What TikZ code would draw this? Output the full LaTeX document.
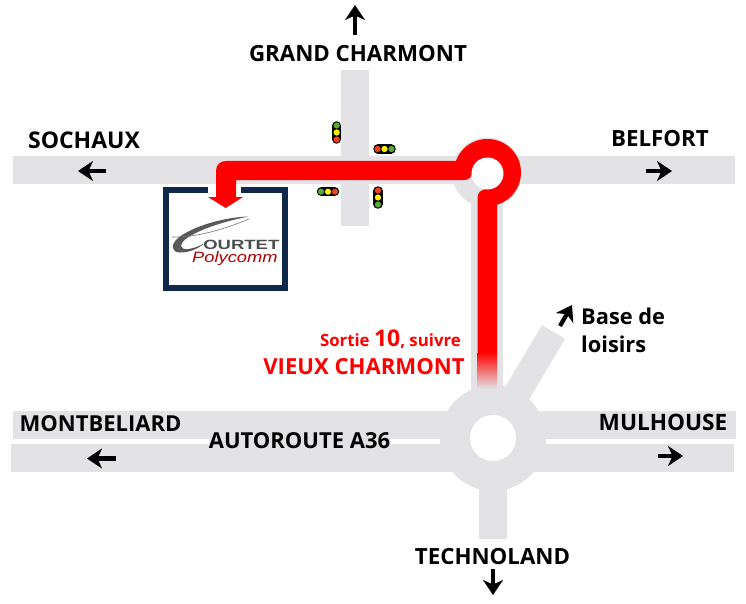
\documentclass[tikz,border=0pt]{standalone}
\usepackage{fontspec}
\setmainfont{Open Sans}
\newfontfamily\logofont{Liberation Sans}
\usetikzlibrary{arrows.meta}
\definecolor{road}{HTML}{E3E3E5}
\definecolor{route}{HTML}{FF0000}
\definecolor{framec}{HTML}{10294A}
\definecolor{tlg}{HTML}{5AA83A}
\definecolor{tly}{HTML}{FFF200}
\definecolor{tlr}{HTML}{F0401C}
\newcommand{\fs}[1]{\bfseries\fontsize{#1}{#1}\selectfont}
\tikzset{
  lbl/.style={inner sep=0pt,font=\fs{22.3},text=black},
  redlbl/.style={inner sep=0pt,font=\fs{22.1},text=route},
  dirarrow/.style={draw=black,line width=4.2pt,-{Stealth[length=15pt,width=20pt,inset=4.5pt]}},
  roadfill/.style={fill=road,draw=none},
  pill/.style={draw=black,line width=9.5pt,line cap=round},
}
\newcommand{\tlv}[5]{% x y top mid bottom
  \draw[pill] (#1,#2-6.5) -- (#1,#2+6.5);
  \fill[#3] (#1,#2-7) circle[radius=3.1];
  \fill[#4] (#1,#2) circle[radius=3.1];
  \fill[#5] (#1,#2+7) circle[radius=3.1];}
\newcommand{\tlh}[5]{% x y left mid right
  \draw[pill] (#1-6.5,#2) -- (#1+6.5,#2);
  \fill[#3] (#1-7,#2) circle[radius=3.1];
  \fill[#4] (#1,#2) circle[radius=3.1];
  \fill[#5] (#1+7,#2) circle[radius=3.1];}
\begin{document}
\begin{tikzpicture}[x=1pt,y=-1pt]
\useasboundingbox (0,0) rectangle (746,604);
% roads
\fill[roadfill] (13,156) rectangle (735,184);
\fill[roadfill] (341,70) rectangle (369,226);
\fill[roadfill] (471,180) rectangle (503,400);
\fill[roadfill] (487,172.5) circle[radius=35];
\fill[roadfill] (13,411) rectangle (736,439);
\fill[roadfill] (11,444) rectangle (734,472);
\fill[roadfill] (542,325) -- (565,339) -- (505,440) -- (482,426) -- cycle;
\fill[roadfill] (479,440) rectangle (507,539);
\fill[roadfill] (493,438) circle[radius=53];
\fill[roadfill] (209,436) rectangle (390,447);
\fill[white] (493,438) circle[radius=23];
% frame
\draw[framec,line width=5.6pt] (166,189.7) rectangle (285,288);
\fill[white] (208,185) rectangle (241,194);
% red route
\fill[route] (477.5,352) -- (477.5,198) .. controls (477.5,192.5) and (481.5,189) .. (487,189) -- (497,189) -- (497,352) -- cycle;
\shade[top color=route,bottom color=road] (477.5,352) rectangle (497,389);
\fill[route] (454,172.5) .. controls (454,154) and (468.5,139) .. (487.5,139)
  .. controls (506,139) and (521,154) .. (521,172.5)
  .. controls (521,191) and (506,206) .. (487.5,206) -- (487.5,172.5) -- (472,172.5) -- cycle;
\fill[route] (226,161) -- (472,161) -- (472,172) .. controls (472,177) and (469,180) .. (464,180)
  -- (236,180) -- (236,197) -- (243,197) -- (225.7,208) -- (208,197) -- (216,197) -- (216,171)
  .. controls (216,165) and (220,161) .. (226,161) -- cycle;
\fill[white] (487.5,173.5) circle[radius=16];
% traffic lights
\tlv{336.7}{132.5}{tlg}{tly}{tlr}
\tlh{384.5}{149}{tlr}{tly}{tlg}
\tlh{328}{191.7}{tlg}{tly}{tlr}
\tlv{378}{197.5}{tlr}{tly}{tlg}
% logo
\fill[black!65] (249,216.5) .. controls (225,217) and (193,226) .. (178,238)
  .. controls (170,245) and (172,252) .. (179,252.5)
  .. controls (188,253) and (198,249) .. (205,243)
  .. controls (197,247.5) and (187,250.5) .. (183,248.5)
  .. controls (178,246) and (183,240) .. (191,235.5)
  .. controls (206,227) and (230,220) .. (249,216.5) -- cycle;
\draw[black!55,line width=0.6pt] (172,237) .. controls (195,238) and (225,229) .. (249,219);
\node[anchor=base west,inner sep=0pt,xscale=1.38,font=\logofont\bfseries\fontsize{13.4}{14}\selectfont,text=black!70] (ourtet) at (203,249.5) {OURTET};
\node[anchor=base west,inner sep=0pt,xscale=1.22,font=\logofont\itshape\fontsize{15}{15}\selectfont,text=red!70!black] (poly) at (192,262) {Polycomm};
% labels
\node[lbl] (gc) at (358,53.5) {GRAND CHARMONT};
\node[lbl,font=\fs{23}] (so) at (84,140) {SOCHAUX};
\node[lbl] (be) at (660,138.5) {BELFORT};
\node[lbl,font=\fs{22}] (mo) at (100.5,424) {MONTBELIARD};
\node[lbl,font=\fs{22}] (au) at (299.5,441) {AUTOROUTE A36};
\node[lbl,font=\fs{22.6}] (mu) at (663,422.5) {MULHOUSE};
\node[lbl] (te) at (492.5,556.5) {TECHNOLAND};
\node[lbl,font=\fs{21.8},anchor=west] (b1) at (581,316) {Base de};
\node[lbl,font=\fs{21.8},anchor=west] (b2) at (581,344) {loisirs};
\node[redlbl,font=\fs{16.8},anchor=east] (so1) at (461,339.5) {Sortie {\fontsize{23}{23}\selectfont 10}, suivre};
\node[redlbl] (vc) at (364,367) {VIEUX CHARMONT};
% arrows
\coordinate (a1) at (355,35); \coordinate (a2) at (355,5);
\draw[dirarrow] (a1) -- (a2);
\coordinate (b1a) at (106,171); \coordinate (b2a) at (78,171);
\draw[dirarrow] (b1a) -- (b2a);
\coordinate (c1) at (646,171); \coordinate (c2) at (672,171);
\draw[dirarrow] (c1) -- (c2);
\coordinate (d1) at (116,458.5); \coordinate (d2) at (87,458.5);
\draw[dirarrow] (d1) -- (d2);
\coordinate (e1) at (658,456); \coordinate (e2) at (683,456);
\draw[dirarrow] (e1) -- (e2);
\coordinate (f1) at (493,569); \coordinate (f2) at (493,595);
\draw[dirarrow] (f1) -- (f2);
\coordinate (g1) at (560,326); \coordinate (g2) at (572,305);
\draw[dirarrow] (g1) -- (g2);
\end{tikzpicture}
\end{document}
